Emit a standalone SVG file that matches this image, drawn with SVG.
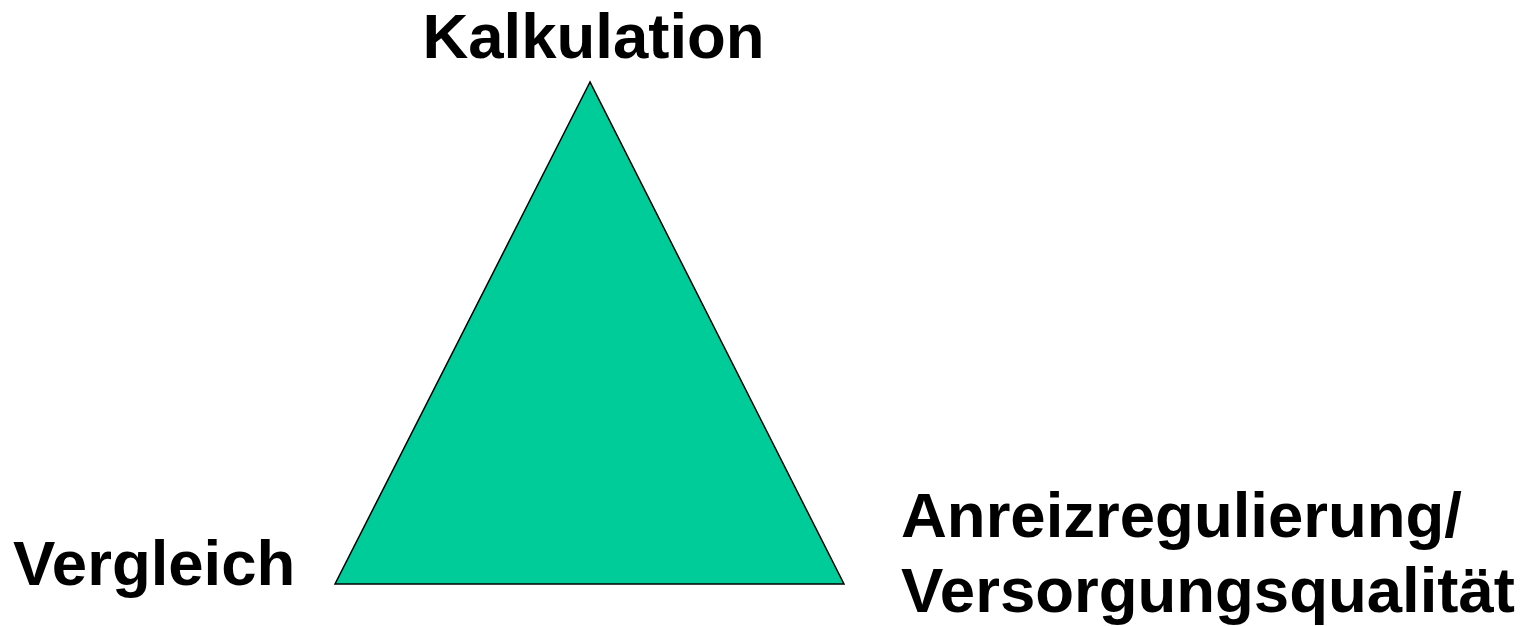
<svg xmlns="http://www.w3.org/2000/svg" width="1537" height="626" viewBox="0 0 1537 626">
<style>
.lbl{font-family:"Liberation Sans",Arial,sans-serif;font-weight:bold;font-size:63.5px;fill:#000}
</style>
<rect width="1537" height="626" fill="#fff"/>
<g id="triangle">
<polygon points="590,82 335,584 844,584" fill="#00CC99" stroke="#000" stroke-width="1.5" stroke-linejoin="miter"/>
</g>
<g id="kalkulation"><text class="lbl" x="593.5" y="58" text-anchor="middle">Kalkulation</text></g>
<g id="vergleich"><text class="lbl" x="13" y="585">Vergleich</text></g>
<g id="anreiz"><text class="lbl" x="901" y="537">Anreizregulierung/</text><text class="lbl" x="901" y="612">Versorgungsqualität</text></g>
<g id="connectors"/>
</svg>
